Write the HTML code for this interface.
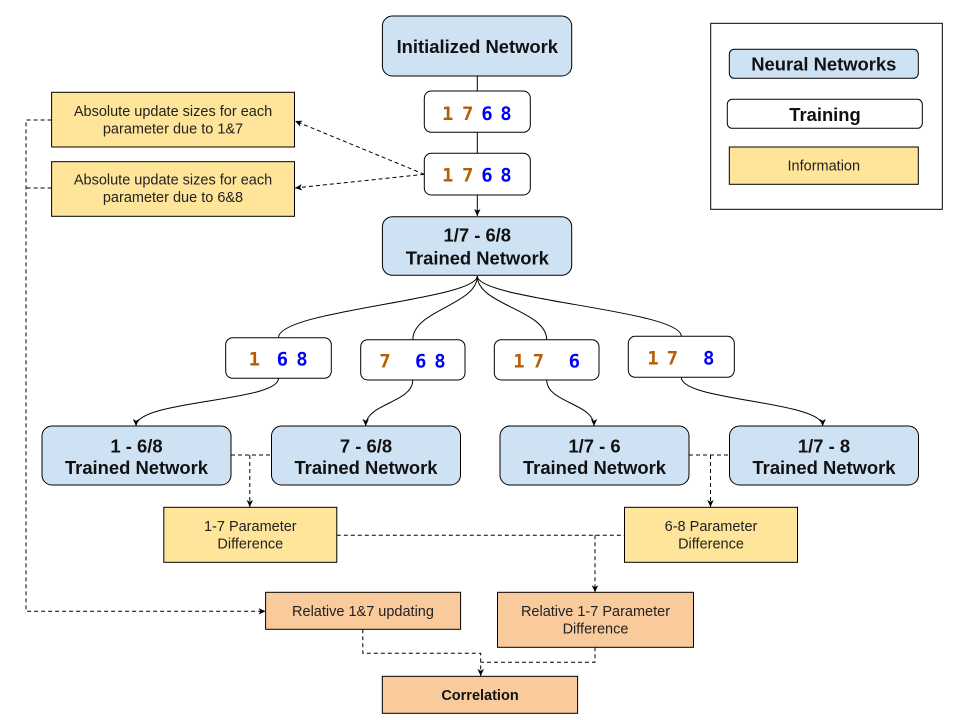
<!DOCTYPE html>
<html><head><meta charset="utf-8"><style>
html,body{margin:0;padding:0;background:#fff;}
svg{display:block;}
.b{font-family:"Liberation Sans",Arial,sans-serif;font-weight:bold;font-size:18.4px;fill:#111;}
.r{font-family:"Liberation Sans",Arial,sans-serif;font-size:14.5px;fill:#222;}
.rb{font-family:"Liberation Sans",Arial,sans-serif;font-weight:bold;font-size:14.5px;fill:#111;}
.d{font-family:"DejaVu Sans Mono","Liberation Mono",monospace;font-weight:bold;font-size:19px;}
.o{fill:#b45f06;}
.u{fill:#0000ff;}
</style></head><body>
<svg width="960" height="720" viewBox="0 0 960 720" xmlns="http://www.w3.org/2000/svg">
<defs>
<marker id="a" markerWidth="8" markerHeight="8" refX="7" refY="4" orient="auto" markerUnits="userSpaceOnUse">
<path d="M0,0.8 L7,4 L0,7.2 L1.8,4 z" fill="#000"/>
</marker>
</defs>
<rect x="0" y="0" width="960" height="720" fill="#fff"/>

<!-- solid connectors top -->
<g stroke="#000" stroke-width="1" fill="none">
<line x1="477.3" y1="76" x2="477.3" y2="91"/>
<line x1="477.3" y1="132.3" x2="477.3" y2="153.3"/>
<line x1="477.3" y1="195" x2="477.3" y2="216" marker-end="url(#a)"/>
<path d="M477.3,276 C477.3,300 278.5,310 278.5,337.7"/>
<path d="M477.3,276 C477.3,305 412.8,310 412.8,339.7"/>
<path d="M477.3,276 C477.3,305 546.7,310 546.7,339.7"/>
<path d="M477.3,276 C477.3,300 681.3,310 681.3,336.3"/>
<path d="M278.5,378.3 C278.5,402 136,400 136,426" marker-end="url(#a)"/>
<path d="M412.8,380 C412.8,403 365.7,403 365.7,426" marker-end="url(#a)"/>
<path d="M546.7,380 C546.7,403 594,403 594,426" marker-end="url(#a)"/>
<path d="M681.3,377.3 C681.3,401 822.7,401 822.7,426" marker-end="url(#a)"/>
</g>

<!-- dashed connectors -->
<g stroke="#000" stroke-width="1" fill="none" stroke-dasharray="4,3">
<line x1="424.3" y1="174.3" x2="295" y2="121" marker-end="url(#a)"/>
<line x1="424.3" y1="174.3" x2="295" y2="188" marker-end="url(#a)"/>
<path d="M51.6,120 H26 V611.3 H265.6" marker-end="url(#a)"/>
<path d="M51.6,188 H26"/>
<path d="M231,455 H271.5"/>
<path d="M249.8,455 V507" marker-end="url(#a)"/>
<path d="M689,455 H729.5"/>
<path d="M710.5,455 V507" marker-end="url(#a)"/>
<path d="M336.8,535.3 H624.5"/>
<path d="M595,535.3 V592.3" marker-end="url(#a)"/>
<path d="M362.8,629.3 V653.3 H480.7 V676" marker-end="url(#a)"/>
<path d="M595,647.3 V662.3 H480.7"/>
</g>

<!-- blue network boxes -->
<g fill="#cfe2f3" stroke="#000" stroke-width="1">
<rect x="382.4" y="16" width="189.3" height="60" rx="10"/>
<rect x="382.4" y="216.7" width="189.3" height="58.6" rx="10"/>
<rect x="42" y="426" width="189" height="59" rx="10"/>
<rect x="271.5" y="426" width="189" height="59" rx="10"/>
<rect x="500" y="426" width="189" height="59" rx="10"/>
<rect x="729.5" y="426" width="189" height="59" rx="10"/>
</g>

<!-- white training boxes -->
<g fill="#fff" stroke="#000" stroke-width="1">
<rect x="424.3" y="91" width="106" height="41.3" rx="7"/>
<rect x="424.3" y="153.3" width="106" height="41.7" rx="7"/>
<rect x="225.7" y="337.7" width="105.6" height="40.6" rx="7"/>
<rect x="360.7" y="339.7" width="104.3" height="40.3" rx="7"/>
<rect x="494.3" y="339.7" width="104.7" height="40.3" rx="7"/>
<rect x="628.3" y="336.3" width="106" height="41" rx="7"/>
</g>

<!-- yellow info boxes -->
<g fill="#ffe599" stroke="#000" stroke-width="1">
<rect x="51.6" y="92.3" width="242.9" height="54.7"/>
<rect x="51.6" y="161.7" width="242.9" height="54.6"/>
<rect x="163.8" y="507.3" width="173" height="55"/>
<rect x="624.5" y="507.3" width="173" height="55"/>
</g>

<!-- orange boxes -->
<g fill="#f9cb9c" stroke="#000" stroke-width="1">
<rect x="265.6" y="592.3" width="195" height="37"/>
<rect x="497.5" y="592.3" width="196" height="55"/>
<rect x="382.3" y="676.3" width="195.3" height="37"/>
</g>

<!-- legend -->
<rect x="710.7" y="23.3" width="231.6" height="186" fill="#fff" stroke="#000" stroke-width="1"/>
<rect x="729.3" y="49.3" width="189" height="29" rx="5" fill="#cfe2f3" stroke="#000" stroke-width="1"/>
<rect x="727.3" y="99.3" width="195" height="29" rx="5" fill="#fff" stroke="#000" stroke-width="1"/>
<rect x="729.3" y="147" width="189" height="37.3" fill="#ffe599" stroke="#000" stroke-width="1"/>
<text class="b" x="823.8" y="70.5" text-anchor="middle">Neural Networks</text>
<text class="b" x="825" y="121" text-anchor="middle">Training</text>
<text class="r" x="823.8" y="170.5" text-anchor="middle">Information</text>

<!-- network labels -->
<text class="b" x="477.3" y="53" text-anchor="middle">Initialized Network</text>
<text class="b" x="477.3" y="241.7" text-anchor="middle">1/7 - 6/8</text>
<text class="b" x="477.3" y="264.3" text-anchor="middle">Trained Network</text>
<text class="b" x="136.5" y="452.3" text-anchor="middle">1 - 6/8</text>
<text class="b" x="136.5" y="473.8" text-anchor="middle">Trained Network</text>
<text class="b" x="366" y="452.3" text-anchor="middle">7 - 6/8</text>
<text class="b" x="366" y="473.8" text-anchor="middle">Trained Network</text>
<text class="b" x="594.5" y="452.3" text-anchor="middle">1/7 - 6</text>
<text class="b" x="594.5" y="473.8" text-anchor="middle">Trained Network</text>
<text class="b" x="824" y="452.3" text-anchor="middle">1/7 - 8</text>
<text class="b" x="824" y="473.8" text-anchor="middle">Trained Network</text>

<!-- info labels -->
<text class="r" x="173" y="116" text-anchor="middle">Absolute update sizes for each</text>
<text class="r" x="173" y="133.5" text-anchor="middle">parameter due to 1&amp;7</text>
<text class="r" x="173" y="184.5" text-anchor="middle">Absolute update sizes for each</text>
<text class="r" x="173" y="202" text-anchor="middle">parameter due to 6&amp;8</text>
<text class="r" x="250.3" y="531" text-anchor="middle">1-7 Parameter</text>
<text class="r" x="250.3" y="548.5" text-anchor="middle">Difference</text>
<text class="r" x="711" y="531" text-anchor="middle">6-8 Parameter</text>
<text class="r" x="711" y="548.5" text-anchor="middle">Difference</text>
<text class="r" x="363" y="616" text-anchor="middle">Relative 1&amp;7 updating</text>
<text class="r" x="595.5" y="616" text-anchor="middle">Relative 1-7 Parameter</text>
<text class="r" x="595.5" y="633.3" text-anchor="middle">Difference</text>
<text class="rb" x="480" y="700" text-anchor="middle">Correlation</text>

<!-- digits -->
<g class="d" text-anchor="middle">
<text class="d o" x="447.7" y="119.8">1</text>
<text class="d o" x="467.7" y="119.8">7</text>
<text class="d u" x="487" y="119.8">6</text>
<text class="d u" x="506" y="119.8">8</text>
<text class="d o" x="447.7" y="181.3">1</text>
<text class="d o" x="467.7" y="181.3">7</text>
<text class="d u" x="487" y="181.3">6</text>
<text class="d u" x="506" y="181.3">8</text>

<text class="d o" x="254.3" y="365.3">1</text>
<text class="d u" x="282.3" y="365.3">6</text>
<text class="d u" x="302" y="365.3">8</text>

<text class="d o" x="385" y="367.6">7</text>
<text class="d u" x="420.7" y="367.6">6</text>
<text class="d u" x="440" y="367.6">8</text>

<text class="d o" x="519" y="367.6">1</text>
<text class="d o" x="538.3" y="367.6">7</text>
<text class="d u" x="574.3" y="367.6">6</text>

<text class="d o" x="653" y="364.3">1</text>
<text class="d o" x="672.3" y="364.3">7</text>
<text class="d u" x="708.7" y="364.3">8</text>
</g>
</svg>
</body></html>
